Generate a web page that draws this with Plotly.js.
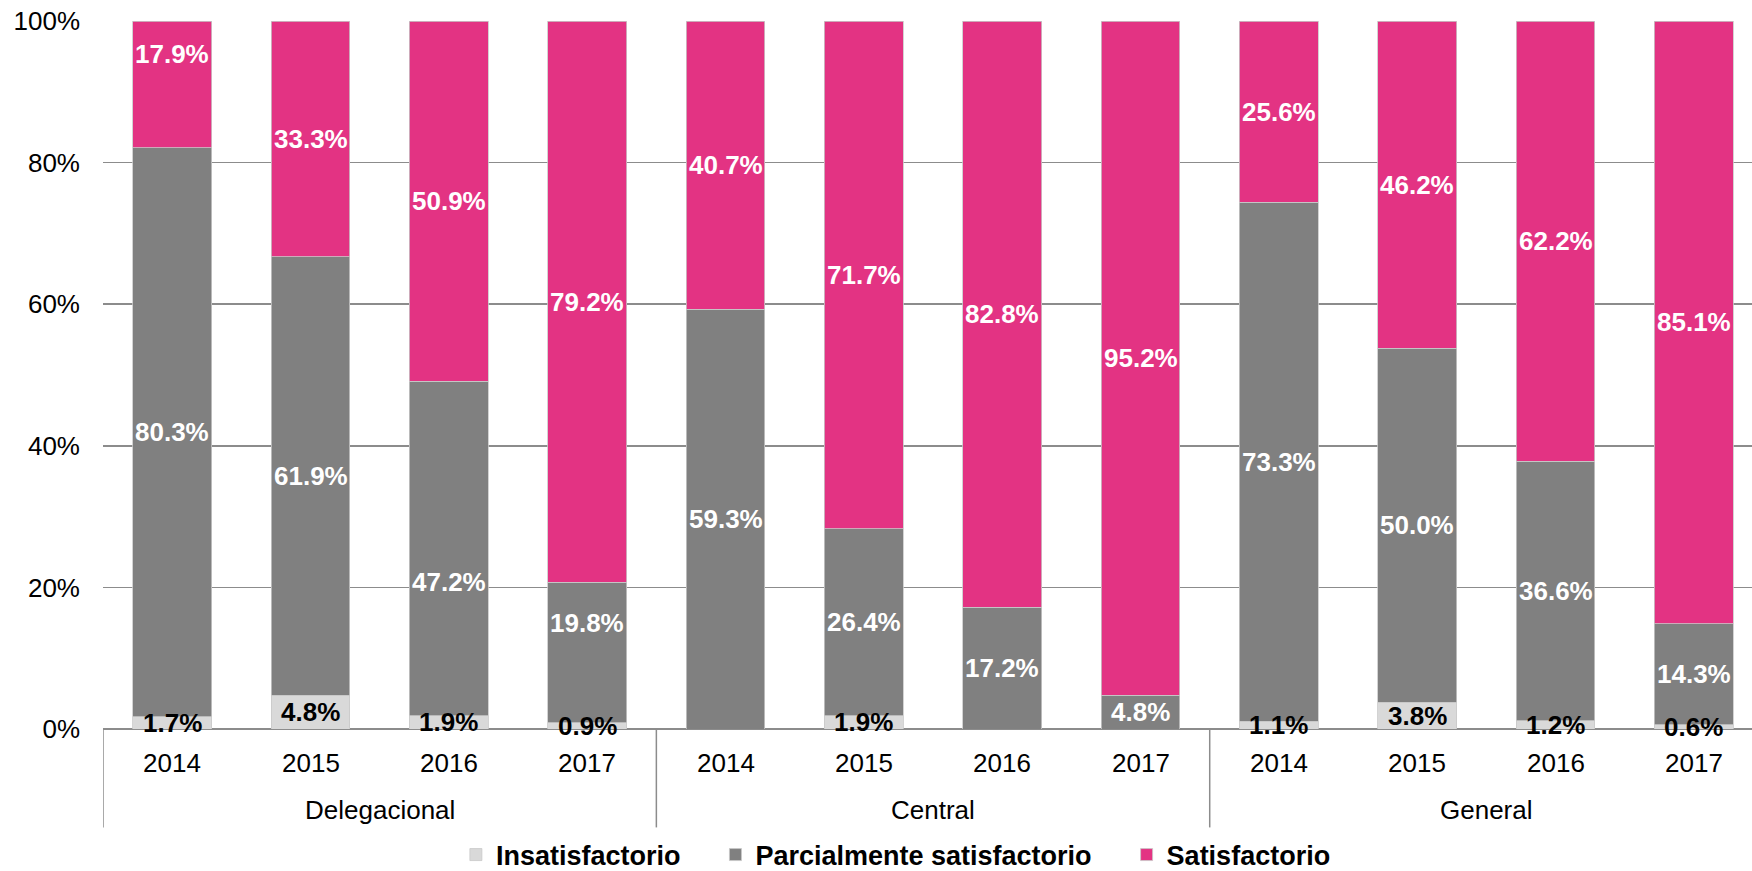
<!DOCTYPE html>
<html>
<head>
<meta charset="utf-8">
<script src="https://cdn.plot.ly/plotly-3.0.1.min.js"></script>
<style>html,body{margin:0;padding:0;background:#fff;}#chart{width:1752px;height:871px;}</style>
</head>
<body>
<div id="chart"></div>
<script>
const groups = ['Delegacional', 'Central', 'General'];
const years = ['2014', '2015', '2016', '2017'];
const seriesNames = ['Insatisfactorio', 'Parcialmente satisfactorio', 'Satisfactorio'];
const insatisfactorio = [1.7, 4.8, 1.9, 0.9, 0, 1.9, 0, 0, 1.1, 3.8, 1.2, 0.6];
const parcialmente = [80.3, 61.9, 47.2, 19.8, 59.3, 26.4, 17.2, 4.8, 73.3, 50.0, 36.6, 14.3];
const satisfactorio = [17.9, 33.3, 50.9, 79.2, 40.7, 71.7, 82.8, 95.2, 25.6, 46.2, 62.2, 85.1];
const yTicks = [0, 20, 40, 60, 80, 100];

const colors = ['#D9D9D9', '#808080', '#E33383'];
const labelColors = ['#000000', '#ffffff', '#ffffff'];
const FONT = 'Liberation Sans, Arial, sans-serif';
// manual label nudges (pixels) as in the original chart: key "series:index"
const labelNudge = {'2:0': 30, '1:2': -34, '1:3': 29};

const series = [insatisfactorio, parcialmente, satisfactorio];
const xIdx = [];
groups.forEach((g, gi) => years.forEach((y, yi) => xIdx.push(gi * years.length + yi)));

const pad = '\u00a0\u00a0\u00a0\u00a0';
const traces = series.map((vals, si) => ({
  type: 'bar',
  name: seriesNames[si] + (si < series.length - 1 ? pad : ''),
  x: xIdx,
  y: vals,
  marker: {color: colors[si], line: {color: '#c8c8c8', width: 0.8}},
  hoverinfo: 'skip'
}));

const annotations = [];
xIdx.forEach((xi, i) => {
  const total = series.reduce((s, arr) => s + arr[i], 0);
  let cum = 0;
  series.forEach((arr, si) => {
    const v = arr[i];
    if (v > 0) {
      annotations.push({
        x: xi, y: (cum + v / 2) / total * 100, xref: 'x', yref: 'y',
        yshift: labelNudge[si + ':' + i] || 0,
        text: v.toFixed(1) + '%', showarrow: false,
        font: {family: FONT, size: 26, color: labelColors[si], weight: 'bold'},
        xanchor: 'center', yanchor: 'middle'
      });
    }
    cum += v;
  });
});
xIdx.forEach((xi, i) => {
  annotations.push({
    x: xi, y: 0, xref: 'x', yref: 'paper', yshift: -34,
    text: years[i % years.length], showarrow: false,
    font: {family: FONT, size: 26, color: '#000'}, xanchor: 'center', yanchor: 'middle'
  });
});
groups.forEach((g, gi) => {
  annotations.push({
    x: gi * years.length + (years.length - 1) / 2, y: 0, xref: 'x', yref: 'paper', yshift: -81,
    text: g, showarrow: false,
    font: {family: FONT, size: 26, color: '#000'}, xanchor: 'center', yanchor: 'middle'
  });
});

const shapes = [];
for (let gi = 0; gi <= groups.length; gi++) {
  const xb = gi * years.length - 0.5;
  shapes.push({type: 'line', xref: 'x', yref: 'paper', x0: xb, x1: xb, y0: 0, y1: -0.139,
    line: {color: '#8c8c8c', width: 1.5}});
}

const layout = {
  width: 1752, height: 871,
  margin: {l: 103, r: 0, t: 21, b: 142, autoexpand: false},
  paper_bgcolor: '#fff', plot_bgcolor: '#fff',
  barmode: 'stack', barnorm: 'percent', bargap: 0.43,
  showlegend: true,
  legend: {orientation: 'h', x: 0.214, xanchor: 'left', y: -0.178, yanchor: 'middle',
    yref: 'paper', font: {family: FONT, size: 27, color: '#000', weight: 'bold'},
    itemwidth: 30, traceorder: 'normal', itemclick: false, bgcolor: 'rgba(0,0,0,0)'},
  xaxis: {range: [-0.5, 11.42], showticklabels: false, showgrid: false, zeroline: false,
    showline: false, ticks: '', fixedrange: true, automargin: false},
  yaxis: {range: [0, 100], tickvals: yTicks, ticktext: yTicks.map(v => v + '%'),
    showgrid: true, gridcolor: '#8c8c8c', gridwidth: 1.5, zeroline: true, zerolinecolor: '#8c8c8c', zerolinewidth: 1.5,
    showline: false, ticks: '', ticklabelstandoff: 22, automargin: false,
    tickfont: {family: FONT, size: 26, color: '#000'}, fixedrange: true},
  annotations: annotations,
  shapes: shapes,
  font: {family: FONT}
};

Plotly.newPlot('chart', traces, layout, {displayModeBar: false, staticPlot: true});
</script>
</body>
</html>
